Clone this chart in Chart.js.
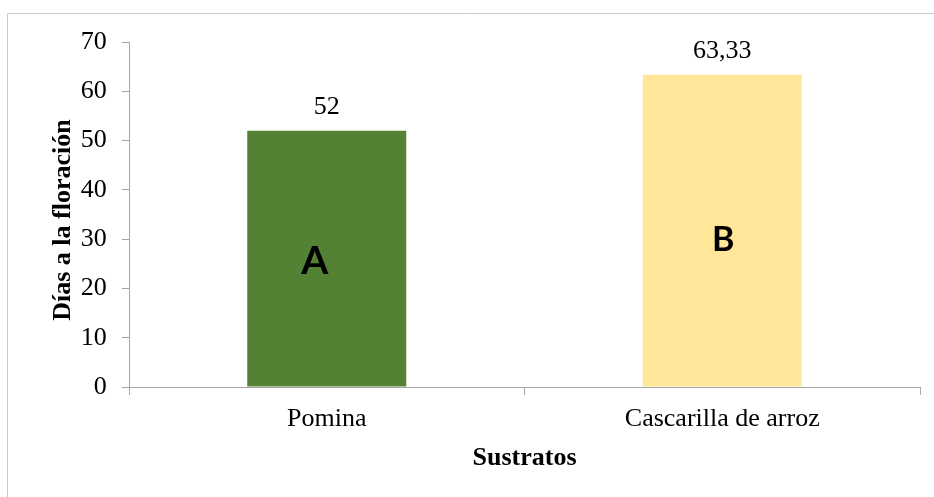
<!DOCTYPE html>
<html>
<head>
<meta charset="utf-8">
<script src="https://cdn.jsdelivr.net/npm/chart.js@4/dist/chart.umd.min.js"></script>
<style>
  html, body { margin: 0; padding: 0; background: #ffffff; }
  #wrap { width: 934px; height: 497px; position: relative; }
</style>
</head>
<body>
<div id="wrap"><canvas id="chart" width="934" height="497"></canvas></div>
<script>
// Días a la floración por sustrato
const categories = ['Pomina', 'Cascarilla de arroz'];
const diasFloracion = [52, 63.33];
const grupos = ['A', 'B'];
const barColors = ['#548235', '#FFE699'];
const yTicks = [0, 10, 20, 30, 40, 50, 60, 70];
const yTitle = 'Días a la floración';
const xTitle = 'Sustratos';

const SERIF = "'Liberation Serif', 'Times New Roman', serif";
const AXIS_GRAY = '#a6a6a6';

// light frame around the chart
const framePlugin = {
  id: 'frame',
  beforeDraw(chart) {
    const ctx = chart.ctx;
    ctx.save();
    ctx.fillStyle = '#ffffff';
    ctx.fillRect(0, 0, chart.width, chart.height);
    ctx.strokeStyle = '#c9c9c9';
    ctx.lineWidth = 1;
    ctx.beginPath();
    ctx.moveTo(7.5, chart.height + 5);
    ctx.lineTo(7.5, 13.5);
    ctx.lineTo(chart.width + 5, 13.5);
    ctx.stroke();
    ctx.restore();
  }
};

// vertical axis title, set a little below the plot centre
const yTitlePlugin = {
  id: 'yTitle',
  afterDraw(chart) {
    const ctx = chart.ctx;
    const area = chart.chartArea;
    ctx.save();
    ctx.translate(63, (area.top + area.bottom) / 2 + 5.5);
    ctx.rotate(-Math.PI / 2);
    ctx.fillStyle = '#000000';
    ctx.font = 'bold 26px ' + SERIF;
    ctx.textAlign = 'center';
    ctx.textBaseline = 'middle';
    ctx.fillText(yTitle, 0, 0);
    ctx.restore();
  }
};

// value labels above bars and group letters inside them
const labelPlugin = {
  id: 'barLabels',
  afterDatasetsDraw(chart) {
    const ctx = chart.ctx;
    const meta = chart.getDatasetMeta(0);
    const yScale = chart.scales.y;
    const letterStyle = [
      { size: 39, level: 25.5, dx: -12 },
      { size: 34, level: 29.9, dx: 1 }
    ];
    ctx.save();
    meta.data.forEach((bar, i) => {
      const v = diasFloracion[i];
      ctx.fillStyle = '#000000';
      ctx.font = '26px ' + SERIF;
      ctx.textAlign = 'center';
      ctx.textBaseline = 'alphabetic';
      ctx.fillText(String(v).replace('.', ','), bar.x, bar.y - 16.5);

      const st = letterStyle[i];
      ctx.font = 'bold ' + st.size + "px Lato, 'Open Sans', sans-serif";
      ctx.textBaseline = 'middle';
      ctx.fillText(grupos[i], bar.x + st.dx, yScale.getPixelForValue(st.level));
    });
    ctx.restore();
  }
};

new Chart(document.getElementById('chart'), {
  type: 'bar',
  data: {
    labels: categories,
    datasets: [{
      data: diasFloracion,
      backgroundColor: barColors,
      borderWidth: 0,
      categoryPercentage: 1,
      barPercentage: 0.402
    }]
  },
  options: {
    responsive: false,
    animation: false,
    devicePixelRatio: 1,
    layout: { padding: { top: 42, right: 14, left: 0, bottom: 0 } },
    plugins: {
      legend: { display: false },
      tooltip: { enabled: false },
      title: { display: false }
    },
    scales: {
      x: {
        offset: true,
        grid: {
          display: true,
          offset: true,
          drawOnChartArea: false,
          drawTicks: true,
          tickLength: 8,
          color: AXIS_GRAY
        },
        border: { display: true, color: AXIS_GRAY, width: 1 },
        ticks: {
          color: '#000000',
          font: { family: SERIF, size: 26 },
          padding: 8.6,
          maxRotation: 0,
          autoSkip: false
        },
        title: {
          display: true,
          text: xTitle,
          color: '#000000',
          font: { family: SERIF, size: 26, weight: 'bold' },
          padding: { top: 0, bottom: 23.5 }
        },
        afterFit(scale) { scale.height = 110; }
      },
      y: {
        min: 0,
        max: 70,
        afterBuildTicks(scale) { scale.ticks = yTicks.map(v => ({ value: v })); },
        grid: {
          display: true,
          drawOnChartArea: false,
          drawTicks: true,
          tickLength: 7,
          color: AXIS_GRAY
        },
        border: { display: true, color: AXIS_GRAY, width: 1 },
        ticks: {
          color: '#000000',
          font: { family: SERIF, size: 26 },
          padding: 15.3
        },
        title: { display: false },
        afterFit(scale) { scale.width = 129; }
      }
    }
  },
  plugins: [framePlugin, labelPlugin, yTitlePlugin]
});
</script>
</body>
</html>
